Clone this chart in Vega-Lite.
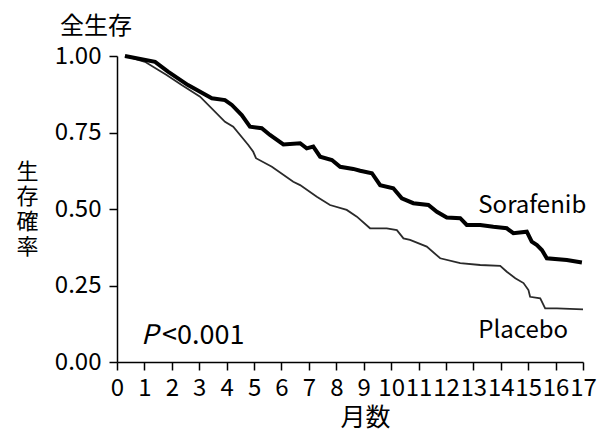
{
  "$schema": "https://vega.github.io/schema/vega-lite/v6.json",
  "width": 466,
  "height": 306,
  "autosize": {"type": "none"},
  "padding": {"left": 117, "top": 56, "right": 15, "bottom": 68},
  "background": "white",
  "config": {"view": {"stroke": null}, "font": "Noto Sans CJK JP"},
  "title": {"text": "全生存", "anchor": "start", "frame": "group", "dx": -57, "offset": 5, "fontSize": 24, "fontWeight": "normal", "font": "Noto Sans CJK JP", "color": "black"},
  "datasets": {
    "curves": [
      {"group": "Sorafenib", "month": 0.29, "surv": 1.0},
      {"group": "Sorafenib", "month": 1.39, "surv": 0.981},
      {"group": "Sorafenib", "month": 1.86, "surv": 0.949},
      {"group": "Sorafenib", "month": 2.59, "surv": 0.905},
      {"group": "Sorafenib", "month": 3.46, "surv": 0.862},
      {"group": "Sorafenib", "month": 3.94, "surv": 0.856},
      {"group": "Sorafenib", "month": 4.19, "surv": 0.84},
      {"group": "Sorafenib", "month": 4.55, "surv": 0.807},
      {"group": "Sorafenib", "month": 4.85, "surv": 0.769},
      {"group": "Sorafenib", "month": 5.28, "surv": 0.764},
      {"group": "Sorafenib", "month": 5.58, "surv": 0.742},
      {"group": "Sorafenib", "month": 6.07, "surv": 0.711},
      {"group": "Sorafenib", "month": 6.68, "surv": 0.715},
      {"group": "Sorafenib", "month": 6.92, "surv": 0.698},
      {"group": "Sorafenib", "month": 7.16, "surv": 0.704},
      {"group": "Sorafenib", "month": 7.41, "surv": 0.671},
      {"group": "Sorafenib", "month": 7.84, "surv": 0.66},
      {"group": "Sorafenib", "month": 8.14, "surv": 0.638},
      {"group": "Sorafenib", "month": 8.62, "surv": 0.631},
      {"group": "Sorafenib", "month": 8.87, "surv": 0.625},
      {"group": "Sorafenib", "month": 9.3, "surv": 0.617},
      {"group": "Sorafenib", "month": 9.6, "surv": 0.578},
      {"group": "Sorafenib", "month": 10.08, "surv": 0.568},
      {"group": "Sorafenib", "month": 10.39, "surv": 0.535},
      {"group": "Sorafenib", "month": 10.81, "surv": 0.519},
      {"group": "Sorafenib", "month": 11.36, "surv": 0.513},
      {"group": "Sorafenib", "month": 11.67, "surv": 0.491},
      {"group": "Sorafenib", "month": 12.03, "surv": 0.472},
      {"group": "Sorafenib", "month": 12.52, "surv": 0.47},
      {"group": "Sorafenib", "month": 12.76, "surv": 0.448},
      {"group": "Sorafenib", "month": 13.25, "surv": 0.448},
      {"group": "Sorafenib", "month": 13.73, "surv": 0.442},
      {"group": "Sorafenib", "month": 14.22, "surv": 0.437},
      {"group": "Sorafenib", "month": 14.46, "surv": 0.421},
      {"group": "Sorafenib", "month": 14.95, "surv": 0.426},
      {"group": "Sorafenib", "month": 15.13, "surv": 0.393},
      {"group": "Sorafenib", "month": 15.32, "surv": 0.382},
      {"group": "Sorafenib", "month": 15.5, "surv": 0.366},
      {"group": "Sorafenib", "month": 15.68, "surv": 0.339},
      {"group": "Sorafenib", "month": 16.41, "surv": 0.333},
      {"group": "Sorafenib", "month": 16.96, "surv": 0.325},
      {"group": "Placebo", "month": 0.29, "surv": 1.0},
      {"group": "Placebo", "month": 1.02, "surv": 0.981},
      {"group": "Placebo", "month": 1.51, "surv": 0.954},
      {"group": "Placebo", "month": 1.81, "surv": 0.938},
      {"group": "Placebo", "month": 2.36, "surv": 0.905},
      {"group": "Placebo", "month": 3.03, "surv": 0.867},
      {"group": "Placebo", "month": 3.94, "surv": 0.785},
      {"group": "Placebo", "month": 4.24, "surv": 0.769},
      {"group": "Placebo", "month": 4.79, "surv": 0.709},
      {"group": "Placebo", "month": 4.97, "surv": 0.687},
      {"group": "Placebo", "month": 5.07, "surv": 0.666},
      {"group": "Placebo", "month": 5.65, "surv": 0.638},
      {"group": "Placebo", "month": 6.43, "surv": 0.589},
      {"group": "Placebo", "month": 6.68, "surv": 0.578},
      {"group": "Placebo", "month": 7.29, "surv": 0.54},
      {"group": "Placebo", "month": 7.77, "surv": 0.513},
      {"group": "Placebo", "month": 8.38, "surv": 0.497},
      {"group": "Placebo", "month": 8.75, "surv": 0.475},
      {"group": "Placebo", "month": 9.23, "surv": 0.437},
      {"group": "Placebo", "month": 9.84, "surv": 0.437},
      {"group": "Placebo", "month": 10.21, "surv": 0.431},
      {"group": "Placebo", "month": 10.45, "surv": 0.404},
      {"group": "Placebo", "month": 10.69, "surv": 0.399},
      {"group": "Placebo", "month": 11.3, "surv": 0.377},
      {"group": "Placebo", "month": 11.79, "surv": 0.339},
      {"group": "Placebo", "month": 12.52, "surv": 0.323},
      {"group": "Placebo", "month": 13.25, "surv": 0.317},
      {"group": "Placebo", "month": 13.98, "surv": 0.314},
      {"group": "Placebo", "month": 14.22, "surv": 0.295},
      {"group": "Placebo", "month": 14.53, "surv": 0.274},
      {"group": "Placebo", "month": 14.83, "surv": 0.258},
      {"group": "Placebo", "month": 15.01, "surv": 0.235},
      {"group": "Placebo", "month": 15.07, "surv": 0.213},
      {"group": "Placebo", "month": 15.44, "surv": 0.208},
      {"group": "Placebo", "month": 15.62, "surv": 0.175},
      {"group": "Placebo", "month": 16.05, "surv": 0.175},
      {"group": "Placebo", "month": 17.0, "surv": 0.172}
    ],
    "labels": [
      {"month": 13.18, "surv": 0.487, "text": "Sorafenib"},
      {"month": 13.18, "surv": 0.078, "text": "Placebo"}
    ],
    "pval": [
      {"month": 1.64, "surv": 0.059, "text": "<0.001"}
    ],
    "plabel": [
      {"month": 0.88, "surv": 0.059, "text": "P"}
    ]
  },
  "encoding": {
    "x": {
      "field": "month", "type": "quantitative",
      "scale": {"domain": [0, 17], "nice": false, "zero": false},
      "axis": {
        "values": [0,1,2,3,4,5,6,7,8,9,10,11,12,13,14,15,16,17],
        "labelOverlap": false, "labelBound": false, "labelFlush": false,
        "grid": false, "domainColor": "black", "domainWidth": 1.5,
        "tickColor": "black", "tickWidth": 1.5, "tickSize": 8,
        "labelFont": "Noto Sans CJK JP", "labelFontSize": 24, "labelColor": "black", "labelPadding": 6,
        "title": "月数", "titleFont": "Noto Sans CJK JP", "titleFontSize": 25, "titleFontWeight": "normal", "titleColor": "black",
        "titleX": 248, "titleY": 55, "titleAlign": "center", "titleBaseline": "middle"
      }
    },
    "y": {
      "field": "surv", "type": "quantitative",
      "scale": {"domain": [0, 1], "nice": false},
      "axis": {
        "values": [0, 0.25, 0.5, 0.75, 1], "format": ".2f",
        "grid": false, "domainColor": "black", "domainWidth": 1.5,
        "tickColor": "black", "tickWidth": 1.5, "tickSize": 8,
        "labelFont": "Noto Sans CJK JP", "labelFontSize": 24, "labelColor": "black", "labelPadding": 8,
        "title": ["生", "存", "確", "率"], "titleFont": "Noto Sans CJK JP", "titleFontSize": 22, "titleFontWeight": "normal", "titleColor": "black",
        "titleAngle": 0, "titleX": -90, "titleY": 115, "titleAlign": "center", "titleBaseline": "middle", "titleLineHeight": 25
      }
    }
  },
  "layer": [
    {
      "data": {"name": "curves"},
      "transform": [{"filter": "datum.group === 'Placebo'"}],
      "mark": {"type": "line", "color": "#2a2a2a", "strokeWidth": 1.8}
    },
    {
      "data": {"name": "curves"},
      "transform": [{"filter": "datum.group === 'Sorafenib'"}],
      "mark": {"type": "line", "color": "black", "strokeWidth": 4}
    },
    {
      "data": {"name": "labels"},
      "mark": {"type": "text", "align": "left", "baseline": "alphabetic", "font": "Noto Sans CJK JP", "fontSize": 24, "color": "black"},
      "encoding": {"text": {"field": "text"}}
    },
    {
      "data": {"name": "pval"},
      "mark": {"type": "text", "align": "left", "baseline": "alphabetic", "font": "Noto Sans CJK JP", "fontSize": 27, "color": "black"},
      "encoding": {"text": {"field": "text"}}
    },
    {
      "data": {"name": "plabel"},
      "mark": {"type": "text", "align": "left", "baseline": "alphabetic", "font": "Noto Sans CJK JP", "fontSize": 27, "fontStyle": "italic", "color": "black"},
      "encoding": {"text": {"field": "text"}}
    }
  ]
}
